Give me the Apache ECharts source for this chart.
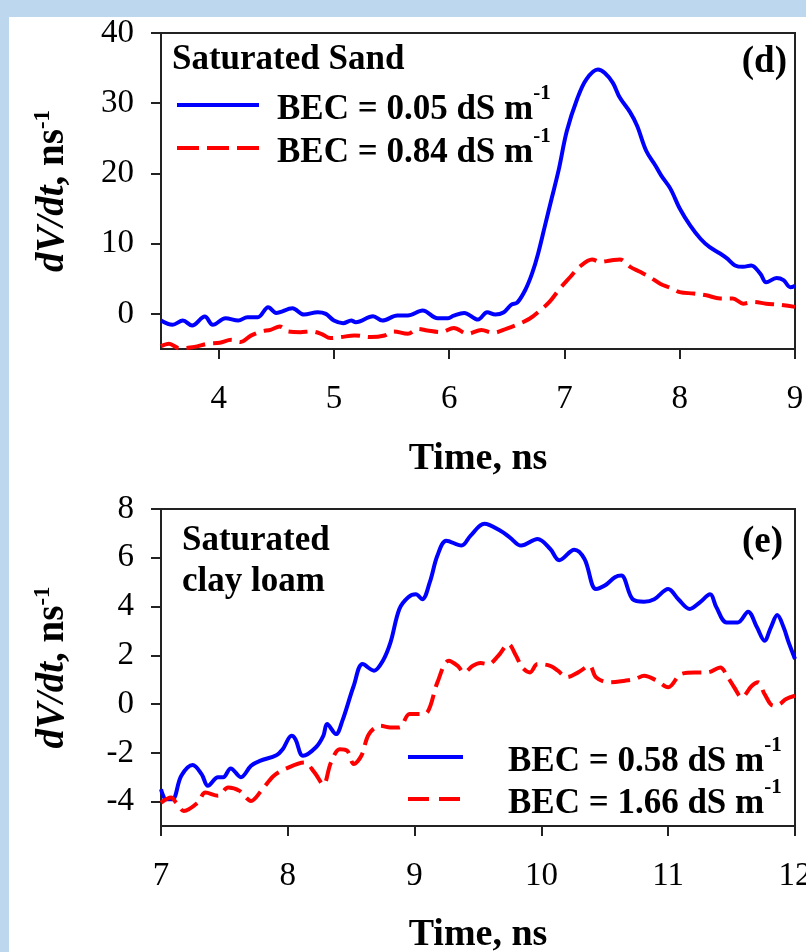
<!DOCTYPE html>
<html>
<head>
<meta charset="utf-8">
<script src="https://cdn.jsdelivr.net/npm/echarts@6/dist/echarts.min.js"></script>
<style>
  html, body { margin: 0; padding: 0; background: #bdd7ee; }
  #grafico { position: absolute; left: 9px; top: 17px; width: 797px; height: 935px; background: #fff; }
</style>
</head>
<body>
<div id="grafico"></div>
<script>
// Painel (d) - areia saturada, BEC = 0.05 dS/m (linha azul)
const areiaTempo005 = [3.50, 3.60, 3.69, 3.77, 3.88, 3.95, 4.06, 4.17, 4.25, 4.34, 4.43, 4.50, 4.64, 4.74, 4.86, 4.93,
  5.00, 5.08, 5.15, 5.19, 5.34, 5.42, 5.55, 5.64, 5.77, 5.90, 5.99, 6.04, 6.13, 6.25, 6.33, 6.40, 6.47, 6.54, 6.59,
  6.66, 6.72, 6.77, 6.83, 6.89, 6.95, 7.02, 7.11, 7.19, 7.29, 7.35, 7.42, 7.48, 7.57, 7.63, 7.71, 7.79, 7.84, 7.92,
  8.00, 8.09, 8.18, 8.26, 8.35, 8.41, 8.48, 8.55, 8.62, 8.70, 8.75, 8.84, 8.90, 8.96, 9.00];
const areiaDvdt005 = [-0.95, -1.56, -0.95, -1.66, -0.38, -1.56, -0.62, -0.95, -0.47, -0.47, 0.95, 0.14, 0.80, -0.10, 0.24, 0.00,
  -0.95, -1.32, -0.95, -1.18, -0.33, -0.95, -0.24, -0.24, 0.47, -0.62, -0.62, -0.24, 0.14, -0.81, 0.24, -0.10, 0.19, 1.33, 1.60,
  3.4, 5.8, 8.5, 12.5, 16.5, 20.5, 26.0, 30.6, 33.4, 34.8, 34.3, 32.9, 30.8, 28.7, 26.8, 23.2, 21.1, 19.7, 17.8,
  15.0, 12.6, 10.7, 9.5, 8.6, 7.9, 6.9, 6.7, 6.9, 5.7, 4.5, 5.1, 4.8, 3.8, 4.0];

// Painel (d) - areia saturada, BEC = 0.84 dS/m (linha vermelha tracejada)
const areiaTempo084 = [3.50, 3.57, 3.66, 3.79, 3.90, 4.01, 4.11, 4.19, 4.28, 4.37, 4.45, 4.53, 4.60, 4.71, 4.80, 4.89,
  4.97, 5.06, 5.18, 5.32, 5.44, 5.52, 5.64, 5.73, 5.81, 5.93, 6.04, 6.16, 6.28, 6.38, 6.50, 6.61, 6.70, 6.79, 6.87,
  6.96, 7.05, 7.13, 7.24, 7.31, 7.40, 7.48, 7.57, 7.66, 7.74, 7.83, 7.92, 8.00, 8.12, 8.23, 8.35, 8.46, 8.55, 8.64,
  8.75, 8.87, 9.00];
const areiaDvdt084 = [-4.6, -4.26, -4.9, -4.7, -4.26, -4.1, -3.7, -4.0, -3.1, -2.5, -2.27, -1.8, -2.5, -2.6, -2.5, -2.84,
  -3.45, -3.3, -3.07, -3.3, -3.07, -2.5, -2.84, -2.13, -2.36, -2.6, -2.0, -2.84, -2.3, -2.7, -2.1, -1.4, -0.66, 0.52, 1.7,
  3.6, 5.25, 6.7, 7.76, 7.4, 7.6, 7.76, 6.7, 5.96, 5.25, 4.3, 3.7, 3.1, 2.9, 2.65, 2.2, 2.2, 1.46, 1.7,
  1.46, 1.3, 1.0];

// Painel (e) - franco argiloso saturado, BEC = 0.58 dS/m (linha azul)
const argilaTempo058 = [7.00, 7.04, 7.09, 7.16, 7.25, 7.32, 7.37, 7.45, 7.49, 7.55, 7.63, 7.71, 7.78, 7.91, 7.96, 8.03,
  8.06, 8.12, 8.22, 8.28, 8.31, 8.38, 8.43, 8.52, 8.59, 8.68, 8.75, 8.81, 8.88, 8.95, 9.01, 9.06, 9.12, 9.18, 9.25,
  9.37, 9.44, 9.55, 9.68, 9.75, 9.84, 9.97, 10.07, 10.14, 10.26, 10.34, 10.43, 10.50, 10.58, 10.63, 10.72, 10.81,
  10.89, 11.00, 11.08, 11.17, 11.25, 11.33, 11.38, 11.46, 11.55, 11.63, 11.70, 11.76, 11.81, 11.86, 11.91, 11.95, 12.00];
const argilaDvdt058 = [-3.49, -3.9, -3.9, -2.94, -2.5, -2.87, -3.35, -3.0, -3.0, -2.64, -3.0, -2.53, -2.33, -2.1, -1.85, -1.3,
  -1.44, -2.12, -1.78, -1.3, -0.82, -1.23, -0.69, 0.75, 1.64, 1.37, 1.78, 2.53, 3.9, 4.38, 4.5, 4.3, 5.0, 6.09, 6.7,
  6.5, 6.9, 7.4, 7.1, 6.84, 6.5, 6.77, 6.36, 5.9, 6.33, 5.95, 4.72, 4.86, 5.2, 5.27, 4.3, 4.2,
  4.3, 4.72, 4.3, 3.9, 4.17, 4.5, 3.97, 3.35, 3.35, 3.79, 3.15, 2.6, 3.15, 3.65, 3.15, 2.53, 1.85];

// Painel (e) - franco argiloso saturado, BEC = 1.66 dS/m (linha vermelha tracejada)
const argilaTempo166 = [7.00, 7.08, 7.12, 7.18, 7.29, 7.35, 7.45, 7.53, 7.62, 7.71, 7.79, 7.89, 7.99, 8.13, 8.21, 8.28,
  8.34, 8.41, 8.47, 8.52, 8.58, 8.64, 8.73, 8.81, 8.88, 8.96, 9.04, 9.10, 9.18, 9.27, 9.34, 9.39, 9.46, 9.52, 9.58,
  9.66, 9.74, 9.80, 9.85, 9.91, 9.97, 10.07, 10.13, 10.20, 10.29, 10.38, 10.43, 10.53, 10.66, 10.74, 10.81, 10.91,
  11.00, 11.10, 11.21, 11.31, 11.41, 11.47, 11.52, 11.58, 11.66, 11.71, 11.76, 11.83, 11.88, 11.93, 12.00];
const argilaDvdt166 = [-4.04, -3.83, -4.04, -4.38, -4.04, -3.63, -3.76, -3.42, -3.56, -3.97, -3.56, -2.94, -2.64, -2.4, -2.8, -3.3,
  -2.4, -1.85, -1.92, -2.46, -2.12, -1.23, -0.89, -0.96, -0.96, -0.41, -0.41, -0.34, 0.89, 1.78, 1.57, 1.3, 1.57, 1.68, 1.64,
  1.98, 2.46, 1.98, 1.5, 1.3, 1.64, 1.57, 1.37, 1.1, 1.3, 1.57, 1.1, 0.89, 0.96, 1.03, 1.16, 0.96,
  0.69, 1.23, 1.3, 1.3, 1.5, 1.1, 0.69, 0.28, 0.75, 0.89, 0.41, -0.07, 0, 0.21, 0.34];

// Rótulos dos eixos
const areiaTicksX = [4, 5, 6, 7, 8, 9];
const areiaTicksY = [0, 10, 20, 30, 40];
const argilaTicksX = [7, 8, 9, 10, 11, 12];
const argilaTicksY = [-4, -2, 0, 2, 4, 6, 8];

// Nomes das séries (legenda)
const nomesAreia = ['BEC = 0.05 dS m-1', 'BEC = 0.84 dS m-1'];
const nomesArgila = ['BEC = 0.58 dS m-1', 'BEC = 1.66 dS m-1'];

const fonte = 'Liberation Serif';
const azul = '#0000ff';
const vermelho = '#ff0000';
const traco = [19, 8];

// Junta tempo e valor em pares [x, y]
function pares(tempos, valores) {
    return tempos.map((t, i) => [t, valores[i]]);
}

// Estilo comum dos eixos
function eixoX(grid, min, max, ticks, gapNome) {
    return {
        type: 'value', gridIndex: grid, min: min, max: max,
        name: 'Time, ns', nameLocation: 'middle', nameGap: gapNome, nameMoveOverlap: false,
        nameTextStyle: { fontFamily: fonte, fontSize: 38, fontWeight: 'bold', color: '#000' },
        axisLine: { show: true, onZero: false, lineStyle: { color: '#222', width: 2 } },
        axisTick: { show: true, inside: false, length: 10, customValues: ticks, lineStyle: { color: '#222', width: 2 } },
        axisLabel: { show: true, margin: 34, customValues: ticks, fontFamily: fonte, fontSize: 33, color: '#000' },
        splitLine: { show: false }
    };
}

function eixoY(grid, min, max, ticks) {
    return {
        type: 'value', gridIndex: grid, min: min, max: max,
        name: '{i|dV/dt}{n|, ns}{s|-1}', nameLocation: 'middle', nameRotate: 90, nameGap: 87, nameMoveOverlap: false,
        nameTextStyle: {
            fontFamily: fonte, fontSize: 39, fontWeight: 'bold', color: '#000',
            rich: {
                i: { fontFamily: fonte, fontSize: 39, fontWeight: 'bold', fontStyle: 'italic', color: '#000', lineHeight: 42 },
                n: { fontFamily: fonte, fontSize: 39, fontWeight: 'bold', color: '#000', lineHeight: 42 },
                s: { fontFamily: fonte, fontSize: 23, fontWeight: 'bold', color: '#000', lineHeight: 23, verticalAlign: 'top' }
            }
        },
        axisLine: { show: true, onZero: false, lineStyle: { color: '#222', width: 2 } },
        axisTick: { show: true, inside: false, length: 10, customValues: ticks, lineStyle: { color: '#222', width: 2 } },
        axisLabel: { show: true, margin: 27, customValues: ticks, fontFamily: fonte, fontSize: 33, color: '#000' },
        splitLine: { show: false }
    };
}

function serie(nome, eixo, dados, cor, tipo) {
    return {
        name: nome, type: 'line', xAxisIndex: eixo, yAxisIndex: eixo,
        data: dados, symbol: 'none', showSymbol: false, smooth: 0.35,
        lineStyle: { color: cor, width: 4, type: tipo },
        itemStyle: { color: cor }
    };
}

// Texto da legenda com o "-1" sobrescrito
function legendaTexto(nome) {
    return '{p| }{t|' + nome.replace('-1', '') + '}{s|-1}';
}

function legenda(nomes, esquerda, topo, largura, gap, recuo, tracoLegenda) {
    return {
        data: [
            { name: nomes[0], lineStyle: { color: azul, width: 4, type: 'solid' } },
            { name: nomes[1], lineStyle: { color: vermelho, width: 4, type: tracoLegenda } }
        ],
        orient: 'vertical', left: esquerda, top: topo, padding: 0,
        itemWidth: largura, itemHeight: 16, itemGap: gap,
        selectedMode: false,
        itemStyle: { opacity: 0 },
        formatter: legendaTexto,
        textStyle: {
            fontFamily: fonte, fontSize: 35, fontWeight: 'bold', color: '#000',
            rich: {
                p: { fontSize: 2, lineHeight: 44, width: recuo },
                t: { fontFamily: fonte, fontSize: 35, fontWeight: 'bold', color: '#000', lineHeight: 37, verticalAlign: 'bottom' },
                s: { fontFamily: fonte, fontSize: 21, fontWeight: 'bold', color: '#000', lineHeight: 30, verticalAlign: 'top' }
            }
        }
    };
}

const estiloTitulo = { fontFamily: fonte, fontSize: 35, fontWeight: 'bold', color: '#000' };

const chart = echarts.init(document.getElementById('grafico'));
chart.setOption({
    animation: false,
    backgroundColor: '#fff',
    title: [
        { text: 'Saturated Sand', left: 163, top: 25, padding: 0, textStyle: estiloTitulo },
        { text: '(d)', right: 19, top: 27, padding: 0, textStyle: Object.assign({}, estiloTitulo, { fontSize: 37 }) },
        { text: 'Saturated\nclay loam', left: 173, top: 503, padding: 0, textStyle: Object.assign({}, estiloTitulo, { lineHeight: 41 }) },
        { text: '(e)', right: 23, top: 507, padding: 0, textStyle: Object.assign({}, estiloTitulo, { fontSize: 37 }) }
    ],
    legend: [
        legenda(nomesAreia, 166, 66, 82, -1, 13, [22, 8]),
        legenda(nomesArgila, 397, 718, 55, -2, 40, [21, 10])
    ],
    grid: [
        { left: 152, top: 16, width: 634, height: 316, show: true, borderColor: '#222', borderWidth: 2, outerBoundsMode: 'none', containLabel: false },
        { left: 152, top: 492, width: 634, height: 317, show: true, borderColor: '#222', borderWidth: 2, outerBoundsMode: 'none', containLabel: false }
    ],
    xAxis: [
        eixoX(0, 3.5, 9, areiaTicksX, 91),
        eixoX(1, 7, 12, argilaTicksX, 90)
    ],
    yAxis: [
        eixoY(0, -5, 40, areiaTicksY),
        eixoY(1, -5, 8, argilaTicksY)
    ],
    series: [
        serie(nomesAreia[0], 0, pares(areiaTempo005, areiaDvdt005), azul, 'solid'),
        serie(nomesAreia[1], 0, pares(areiaTempo084, areiaDvdt084), vermelho, traco),
        serie(nomesArgila[0], 1, pares(argilaTempo058, argilaDvdt058), azul, 'solid'),
        serie(nomesArgila[1], 1, pares(argilaTempo166, argilaDvdt166), vermelho, traco)
    ]
});
</script>
</body>
</html>
